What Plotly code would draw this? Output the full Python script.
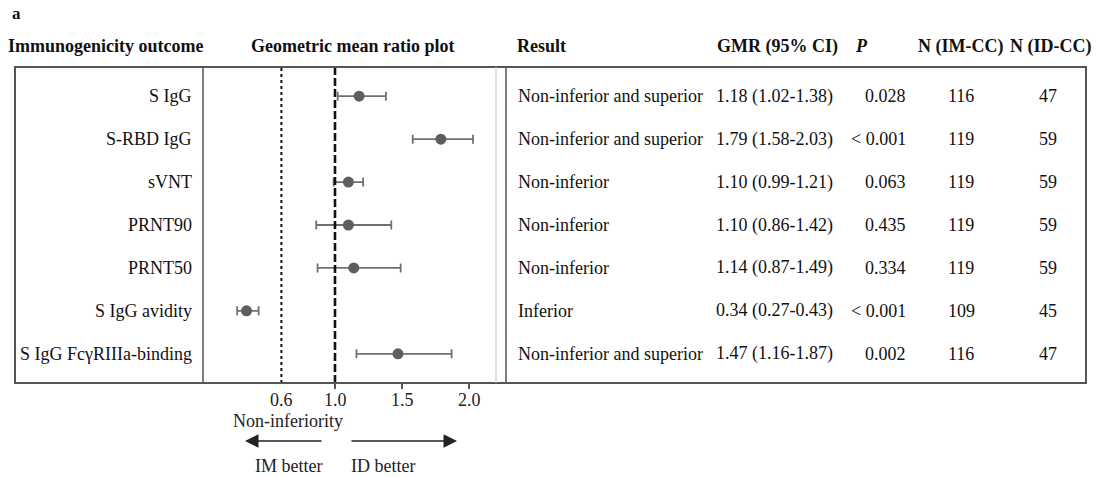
import plotly.graph_objects as go

# ---- data ----
outcomes = ["S IgG", "S-RBD IgG", "sVNT", "PRNT90", "PRNT50", "S IgG avidity", "S IgG FcγRIIIa-binding"]
gmr = [1.18, 1.79, 1.10, 1.10, 1.14, 0.34, 1.47]
ci_low = [1.02, 1.58, 0.99, 0.86, 0.87, 0.27, 1.16]
ci_high = [1.38, 2.03, 1.21, 1.42, 1.49, 0.43, 1.87]
results = ["Non-inferior and superior", "Non-inferior and superior", "Non-inferior", "Non-inferior",
           "Non-inferior", "Inferior", "Non-inferior and superior"]
p_values = ["0.028", "< 0.001", "0.063", "0.435", "0.334", "< 0.001", "0.002"]
n_im = [116, 119, 119, 119, 119, 109, 116]
n_id = [47, 59, 59, 59, 59, 45, 47]
tick_vals = [0.6, 1.0, 1.5, 2.0]
tick_text = ["0.6", "1.0", "1.5", "2.0"]
noninf_margin = 0.6
null_line = 1.0

W, H = 1096, 477
FONT = "Liberation Serif, Times New Roman, serif"
TXT = "#111111"
BOX = "#555555"


def px(x):
    return x / W


def py(y):
    return 1 - y / H


rows = list(range(len(outcomes)))
err_plus = [h - g for g, h in zip(gmr, ci_high)]
err_minus = [g - l for g, l in zip(gmr, ci_low)]

fig = go.Figure()
fig.add_trace(go.Scatter(
    x=gmr, y=rows, mode="markers",
    marker=dict(size=11, color="#5e5e5e"),
    error_x=dict(type="data", symmetric=False, array=err_plus, arrayminus=err_minus,
                 color="#707070", thickness=1.8, width=4.5),
    showlegend=False, hoverinfo="skip",
))

plot_top, plot_bottom = 67, 383
fig.update_layout(
    width=W, height=H,
    margin=dict(l=0, r=0, t=0, b=0),
    paper_bgcolor="white", plot_bgcolor="white",
    font=dict(family=FONT, size=18, color=TXT),
    xaxis=dict(domain=[px(203), px(506)], range=[0.015, 2.276],
               tickvals=tick_vals[1:], ticks="outside", ticklen=5, showticklabels=False,
               tickcolor=BOX, tickwidth=1.5, showgrid=False, zeroline=False, showline=False),
    yaxis=dict(domain=[py(plot_bottom), py(plot_top)], range=[6.68, -0.68],
               showticklabels=False, showgrid=False, zeroline=False, showline=False, ticks=""),
)

shapes = []
# reference lines
shapes.append(dict(type="line", xref="x", yref="paper", x0=noninf_margin, x1=noninf_margin,
                   y0=py(plot_bottom), y1=py(plot_top), line=dict(color="#111", width=2, dash="dot")))
shapes.append(dict(type="line", xref="x", yref="paper", x0=null_line, x1=null_line,
                   y0=py(plot_bottom), y1=py(plot_top), line=dict(color="#111", width=2.6, dash="8px,3px")))
# outer box and separators
shapes.append(dict(type="rect", xref="paper", yref="paper", x0=px(15), x1=px(1086),
                   y0=py(plot_bottom), y1=py(plot_top), line=dict(color=BOX, width=2)))
shapes.append(dict(type="line", xref="paper", yref="paper", x0=px(203), x1=px(203),
                   y0=py(plot_bottom), y1=py(plot_top), line=dict(color=BOX, width=1.5)))
shapes.append(dict(type="line", xref="paper", yref="paper", x0=px(506), x1=px(506),
                   y0=py(plot_bottom), y1=py(plot_top), line=dict(color=BOX, width=1.5)))
shapes.append(dict(type="line", xref="paper", yref="paper", x0=px(496), x1=px(496),
                   y0=py(plot_bottom), y1=py(plot_top), line=dict(color="#cfcfcf", width=1.2)))
fig.update_layout(shapes=shapes)

ann = []


def text(x, y, s, xanchor="left", yref="paper", size=18, color=TXT, xref="paper"):
    ann.append(dict(x=x, y=y, xref=xref, yref=yref, text=s, showarrow=False,
                    xanchor=xanchor, yanchor="middle", font=dict(family=FONT, size=size, color=color)))


# panel letter and headers
text(px(10), py(13), "<b>a</b>", size=17)
hy = py(46)
text(px(6), hy, "<b>Immunogenicity outcome</b>")
text(px(352), hy, "<b>Geometric mean ratio plot</b>", xanchor="center")
text(px(515), hy, "<b>Result</b>")
text(px(715), hy, "<b>GMR (95% CI)</b>")
text(px(853), hy, "<b><i>P</i></b>")
text(px(960), hy, "<b>N (IM-CC)</b>", xanchor="center")
text(px(1050), hy, "<b>N (ID-CC)</b>", xanchor="center")

# table rows
for i in rows:
    text(px(194), i, outcomes[i], xanchor="right", yref="y")
    text(px(516), i, results[i], yref="y")
    text(px(714), i, f"{gmr[i]:.2f} ({ci_low[i]:.2f}-{ci_high[i]:.2f})", yref="y")
    text(px(908), i, p_values[i], xanchor="right", yref="y")
    text(px(961), i, str(n_im[i]), xanchor="center", yref="y")
    text(px(1048), i, str(n_id[i]), xanchor="center", yref="y")

# axis tick labels
for v, t in zip(tick_vals, tick_text):
    text(v, py(400), t, xanchor="center", xref="x", color="#222")

# below-axis annotations
text(px(288), py(421), "Non-inferiority", xanchor="center", color="#222")
text(px(288), py(466), "IM better", xanchor="center", color="#222")
text(px(383), py(466), "ID better", xanchor="center", color="#222")
ann.append(dict(x=px(245), y=py(441), xref="paper", yref="paper", ax=78, ay=0,
                showarrow=True, arrowhead=2, arrowsize=1.8, arrowwidth=1.5, arrowcolor="#222", text=""))
ann.append(dict(x=px(457), y=py(441), xref="paper", yref="paper", ax=-107, ay=0,
                showarrow=True, arrowhead=2, arrowsize=1.8, arrowwidth=1.5, arrowcolor="#222", text=""))
fig.update_layout(annotations=ann)

fig.write_html("out.html")
